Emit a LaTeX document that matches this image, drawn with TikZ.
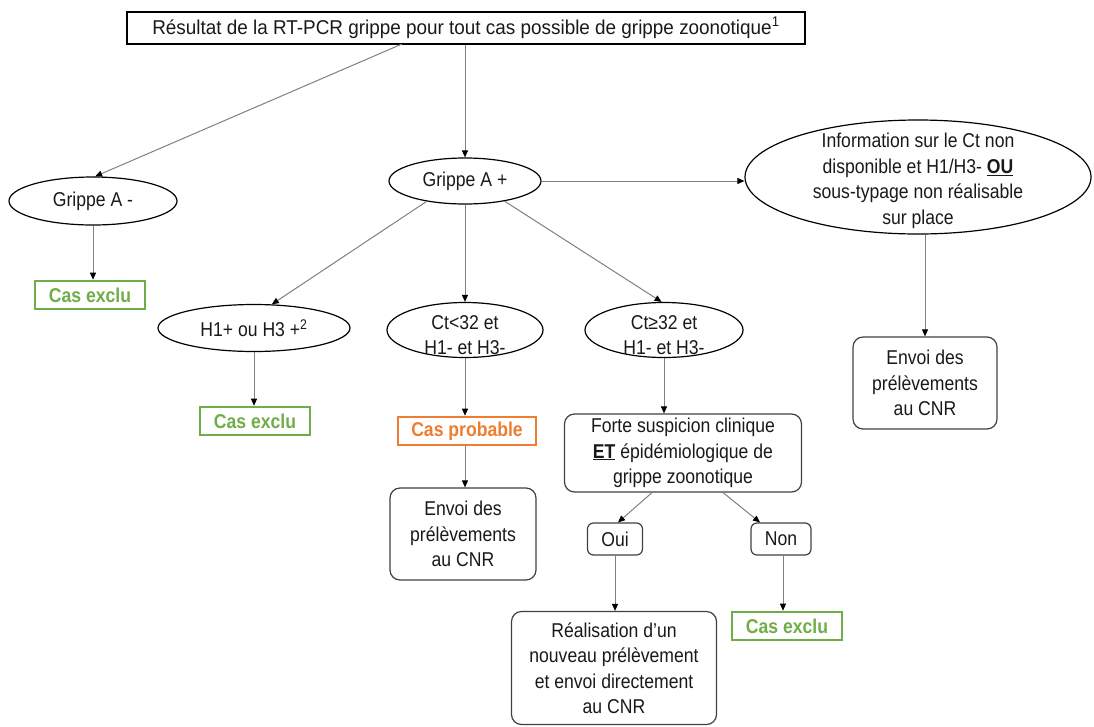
\documentclass[tikz,border=0pt]{standalone}
\usepackage{fontspec}
\setmainfont[FakeStretch=0.88]{Liberation Sans}
\usetikzlibrary{shapes.geometric,arrows.meta,calc}
\definecolor{vgreen}{HTML}{70AD47}
\definecolor{vorange}{HTML}{ED7D31}
\definecolor{lgray}{HTML}{808080}
\definecolor{bgray}{HTML}{404040}
\begin{document}
\begin{tikzpicture}[x=1pt,y=-1pt,
  every node/.style={font=\fontsize{20}{25.5}\selectfont, inner sep=0pt, align=center, text=black!90},
  titlebox/.style={draw=black, line width=1.2pt, font=\addfontfeature{FakeStretch=0.945}\fontsize{20}{22}\selectfont},
  ell/.style={draw=black, line width=1.2pt, ellipse},
  rbox/.style={draw=bgray, line width=1.2pt, rounded corners=10pt},
  casbox/.style={line width=2.6pt, font=\bfseries\fontsize{20}{22}\selectfont, minimum height=28},
  green/.style={casbox, draw=vgreen, text=vgreen, minimum width=110},
  orange/.style={casbox, draw=vorange, text=vorange, minimum width=138},
  conn/.style={draw=lgray, line width=1pt, -{Triangle[length=7pt,width=6pt,color=black]}}
]
\useasboundingbox (0,0) rectangle (1094,726);

% nodes
\node[titlebox, minimum width=678, minimum height=32] (title) at (466,28)
  {Résultat de la RT-PCR grippe pour tout cas possible de grippe zoonotique\textsuperscript{1}};
\coordinate (t1) at (402,44);

\node[ell, minimum width=168, minimum height=48] (gam) at (93,201) {};
\node (gamt) at (93,201) {Grippe A -};
\node[green] (cas1) at (90,295) {Cas exclu};

\node[ell, minimum width=152, minimum height=46] (gap) at (465,181) {};
\node (gapt) at (465,181) {Grippe A +};

\node[ell, minimum width=346, minimum height=114] (info) at (918,177) {};
\node (infot) at (918,181) {Information sur le Ct non\\disponible et H1/H3- \underline{\textbf{OU}}\\sous-typage non réalisable\\sur place};
\node[rbox, minimum width=144, minimum height=92] (envR) at (925,383) {Envoi des\\prélèvements\\au CNR};

\node[ell, minimum width=192, minimum height=47] (h1) at (254,328) {};
\node (h1t) at (254,328) {H1+ ou H3 +\textsuperscript{2}};
\node[green] (cas2) at (255,421) {Cas exclu};

\node[ell, minimum width=156, minimum height=55] (ct1) at (465,330) {};
\node (ct1t) at (465,335) {Ct<32 et\\H1- et H3-};
\node[orange] (casp) at (467,431) {Cas probable};
\node[rbox, minimum width=146, minimum height=92] (envM) at (463,534) {Envoi des\\prélèvements\\au CNR};

\node[ell, minimum width=158, minimum height=55] (ct2) at (664,330) {};
\node (ct2t) at (664,335) {Ct≥32 et\\H1- et H3-};
\node[rbox, minimum width=237, minimum height=78] (forte) at (683,453)
  {Forte suspicion clinique\\\underline{\textbf{ET}} épidémiologique de\\grippe zoonotique};
\node[rbox, rounded corners=6pt, minimum width=55, minimum height=32] (oui) at (615,539) {Oui};
\node[rbox, rounded corners=6pt, minimum width=60, minimum height=32] (non) at (781,539) {Non};
\node[rbox, minimum width=205, minimum height=113] (real) at (614,668)
  {Réalisation d’un\\nouveau prélèvement\\et envoi directement\\au CNR};
\node[green] (cas3) at (787,626) {Cas exclu};

% connectors
\draw[conn] (t1) -- (gam.85);
\draw[conn] (gap.north |- title.south) -- (gap.north);
\draw[conn] (gam.south) -- (gam.south |- cas1.north);
\draw[conn] (gap.east) -- (gap.east -| info.west);
\draw[conn] (envR.north |- info.south) -- (envR.north);
\draw[conn] (gap.-152) -- (h1.53);
\draw[conn] (gap.south) -- (ct1.north);
\draw[conn] (gap.-27) -- (ct2.95);
\draw[conn] (h1.south) -- (h1.south |- cas2.north);
\draw[conn] (ct1.south) -- (ct1.south |- casp.north);
\draw[conn] (casp.south -| ct1.south) -- (ct1.south |- envM.north);
\draw[conn] (ct2.south) -- (ct2.south |- forte.north);
\draw[conn] ($(forte.south)+(-31,0)$) -- ($(oui.north)+(3,0)$);
\draw[conn] ($(forte.south)+(40,0)$) -- ($(non.north)+(-21,0)$);
\draw[conn] (oui.south) -- (oui.south |- real.north);
\draw[conn] ($(non.south)+(2,0)$) -- ($(non.south |- cas3.north)+(2,0)$);
\end{tikzpicture}
\end{document}
